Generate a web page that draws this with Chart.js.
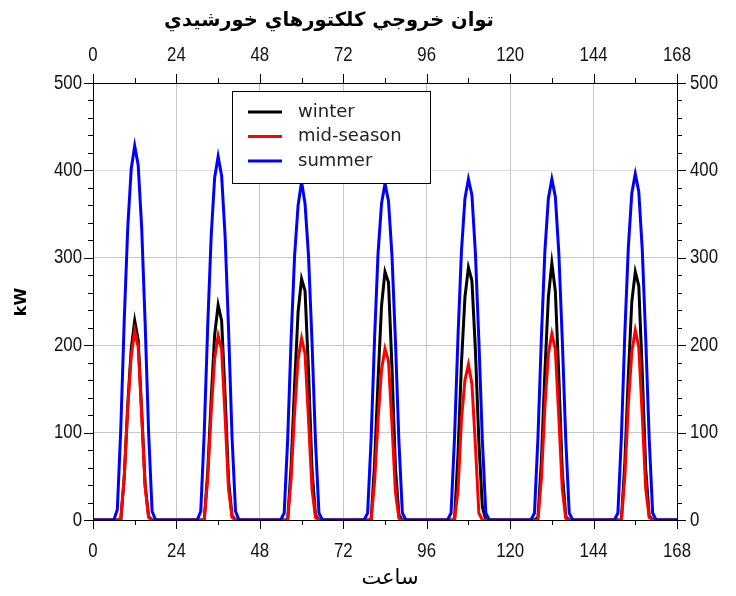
<!DOCTYPE html>
<html>
<head>
<meta charset="utf-8">
<script src="https://cdn.jsdelivr.net/npm/chart.js@4.4.0/dist/chart.umd.min.js"></script>
<style>
  html, body { margin: 0; padding: 0; background: #fff; }
  canvas { display: block; }
</style>
</head>
<body>
<canvas id="grafico" width="736" height="596"></canvas>
<script>
// hourly output, one row per day (hours 0..23), last value is hour 168
const winter = [
  0,0,0,0,0,0,0,0,0,50,132,196,228,206,125,40,4,0,0,0,0,0,0,0,
  0,0,0,0,0,0,0,0,0,55,138,212,246,228,142,45,5,0,0,0,0,0,0,0,
  0,0,0,0,0,0,0,0,0,62,155,238,276,262,170,58,6,0,0,0,0,0,0,0,
  0,0,0,0,0,0,0,0,0,64,160,245,284,272,175,60,6,0,0,0,0,0,0,0,
  0,0,0,0,0,0,0,0,0,75,180,255,289,274,195,90,15,0,0,0,0,0,0,0,
  0,0,0,0,0,0,0,0,3,68,170,255,294,262,165,55,4,0,0,0,0,0,0,0,
  0,0,0,0,0,0,0,0,0,66,165,250,284,268,170,58,5,0,0,0,0,0,0,0,
  0
];
const midSeason = [
  0,0,0,0,0,0,0,0,2,50,128,188,216,198,120,38,3,0,0,0,0,0,0,0,
  0,0,0,0,0,0,0,0,0,48,124,185,211,195,118,35,3,0,0,0,0,0,0,0,
  0,0,0,0,0,0,0,0,0,48,124,184,208,190,115,35,3,0,0,0,0,0,0,0,
  0,0,0,0,0,0,0,0,0,44,114,172,196,182,110,32,2,0,0,0,0,0,0,0,
  0,0,0,0,0,0,0,0,0,34,115,160,178,156,86,8,0,0,0,0,0,0,0,0,
  0,0,0,0,0,0,0,0,0,48,130,190,213,195,118,35,2,0,0,0,0,0,0,0,
  0,0,0,0,0,0,0,0,0,50,132,192,217,198,120,36,3,0,0,0,0,0,0,0,
  0
];
const summer = [
  0,0,0,0,0,0,0,12,105,230,335,402,428,406,335,225,100,10,0,0,0,0,0,0,
  0,0,0,0,0,0,0,10,100,222,325,392,416,394,325,218,95,10,0,0,0,0,0,0,
  0,0,0,0,0,0,0,8,92,208,303,360,387,362,302,204,90,8,0,0,0,0,0,0,
  0,0,0,0,0,0,0,8,92,208,305,362,385,365,303,205,90,8,0,0,0,0,0,0,
  0,0,0,0,0,0,0,8,94,210,308,368,390,372,306,206,92,8,0,0,0,0,0,0,
  0,0,0,0,0,0,0,8,94,210,308,368,390,370,306,206,92,8,0,0,0,0,0,0,
  0,0,0,0,0,0,0,8,95,214,312,374,396,376,310,208,93,8,0,0,0,0,0,0,
  0
];
const seriesNames = ['winter', 'mid-season', 'summer'];
const seriesColors = ['#000000', '#ff0000', '#0000ff'];
const xTicks = [0, 24, 48, 72, 96, 120, 144, 168];
const yTicks = [0, 100, 200, 300, 400, 500];
const title = 'توان خروجي كلكتورهاي خورشيدي';
const xTitle = 'ساعت';
const yTitle = 'kW';

const pts = arr => arr.map((v, i) => ({ x: i, y: v }));

// narrow tick text (squeezed Liberation Sans)
function narrowText(c, text, x, y, align) {
  c.save();
  c.translate(x, y);
  c.scale(0.84, 1);
  c.textAlign = align;
  c.fillText(text, 0, 0);
  c.restore();
}

// tick marks and labels outside the frame, titles and the boxed legend
const extras = {
  id: 'extras',
  afterDraw(chart) {
    const c = chart.ctx;
    const a = chart.chartArea;
    const sx = chart.scales.x, sy = chart.scales.y;
    c.save();
    c.strokeStyle = '#000';
    c.lineWidth = 1;
    c.beginPath();
    for (let v = 0; v <= 168; v += 12) {
      const px = Math.round(sx.getPixelForValue(v)) + 0.5;
      const len = v % 24 === 0 ? 9 : 5;
      c.moveTo(px, a.bottom); c.lineTo(px, a.bottom + len);
      c.moveTo(px, a.top); c.lineTo(px, a.top - len);
    }
    for (let v = 0; v <= 500; v += 20) {
      const py = Math.round(sy.getPixelForValue(v)) + 0.5;
      const len = v % 100 === 0 ? 9 : 5;
      c.moveTo(a.left, py); c.lineTo(a.left - len, py);
      c.moveTo(a.right, py); c.lineTo(a.right + len, py);
    }
    c.stroke();

    c.fillStyle = '#111';
    c.font = '20px "Liberation Sans", Arial, sans-serif';
    c.textBaseline = 'middle';
    xTicks.forEach(v => {
      const px = sx.getPixelForValue(v);
      narrowText(c, String(v), px, a.bottom + 31, 'center');
      narrowText(c, String(v), px, a.top - 28, 'center');
    });
    yTicks.forEach(v => {
      const py = sy.getPixelForValue(v);
      narrowText(c, String(v), a.left - 11, py, 'right');
      narrowText(c, String(v), a.right + 13, py, 'left');
    });

    // legend
    const lx = 232, ly = 91, lw = 198, lh = 92;
    c.fillStyle = '#fff';
    c.fillRect(lx, ly, lw, lh);
    c.strokeStyle = '#000';
    c.strokeRect(lx + 0.5, ly + 0.5, lw, lh);
    c.font = '18px "DejaVu Sans"';
    c.textAlign = 'left';
    seriesNames.forEach((name, i) => {
      const y = 112 + i * 24.5;
      c.strokeStyle = seriesColors[i];
      c.lineWidth = 3;
      c.beginPath();
      c.moveTo(248, y); c.lineTo(282, y);
      c.stroke();
      c.fillStyle = '#222';
      c.fillText(name, 298, y);
    });

    // titles
    c.fillStyle = '#000';
    c.textAlign = 'center';
    c.font = 'bold 19.5px "DejaVu Sans"';
    c.fillText(title, 329, 21);
    c.font = '21px "DejaVu Sans"';
    c.fillText(xTitle, 390, 579);
    c.translate(22, 302);
    c.rotate(-Math.PI / 2);
    c.font = 'bold 16px "DejaVu Sans"';
    c.fillText(yTitle, 0, 0);
    c.restore();
  }
};

const fixSize = (w, h) => scale => {
  if (w) scale.width = w;
  if (h) scale.height = h;
};
const setTicks = list => s => { s.ticks = list.map(v => ({ value: v })); };

new Chart(document.getElementById('grafico'), {
  type: 'line',
  data: {
    datasets: [
      { label: seriesNames[0], data: pts(winter), borderColor: seriesColors[0], order: 2 },
      { label: seriesNames[1], data: pts(midSeason), borderColor: seriesColors[1], order: 1 },
      { label: seriesNames[2], data: pts(summer), borderColor: seriesColors[2], order: 0 }
    ]
  },
  options: {
    responsive: false,
    animation: false,
    layout: { padding: 0 },
    elements: {
      line: { borderWidth: 3, tension: 0 },
      point: { radius: 0 }
    },
    scales: {
      x: {
        type: 'linear', position: 'bottom', min: 0, max: 168,
        afterBuildTicks: setTicks(xTicks),
        afterFit: fixSize(null, 76),
        ticks: { display: false },
        grid: { color: '#c6c6c6', drawTicks: false },
        border: { color: '#000', width: 1 }
      },
      x2: {
        type: 'linear', position: 'top', min: 0, max: 168,
        afterBuildTicks: setTicks(xTicks),
        afterFit: fixSize(null, 83),
        ticks: { display: false },
        grid: { display: false, drawTicks: false },
        border: { color: '#000', width: 1 }
      },
      y: {
        type: 'linear', position: 'left', min: 0, max: 500,
        afterBuildTicks: setTicks(yTicks),
        afterFit: fixSize(93, null),
        ticks: { display: false },
        grid: { color: ctx => ctx.tick && ctx.tick.value === 400 ? '#dedede' : '#c6c6c6', drawTicks: false },
        border: { color: '#000', width: 1 }
      },
      y2: {
        type: 'linear', position: 'right', min: 0, max: 500,
        afterBuildTicks: setTicks(yTicks),
        afterFit: fixSize(59, null),
        ticks: { display: false },
        grid: { display: false, drawTicks: false },
        border: { color: '#000', width: 1 }
      }
    },
    plugins: {
      legend: { display: false },
      tooltip: { enabled: false }
    }
  },
  plugins: [extras]
});
</script>
</body>
</html>
